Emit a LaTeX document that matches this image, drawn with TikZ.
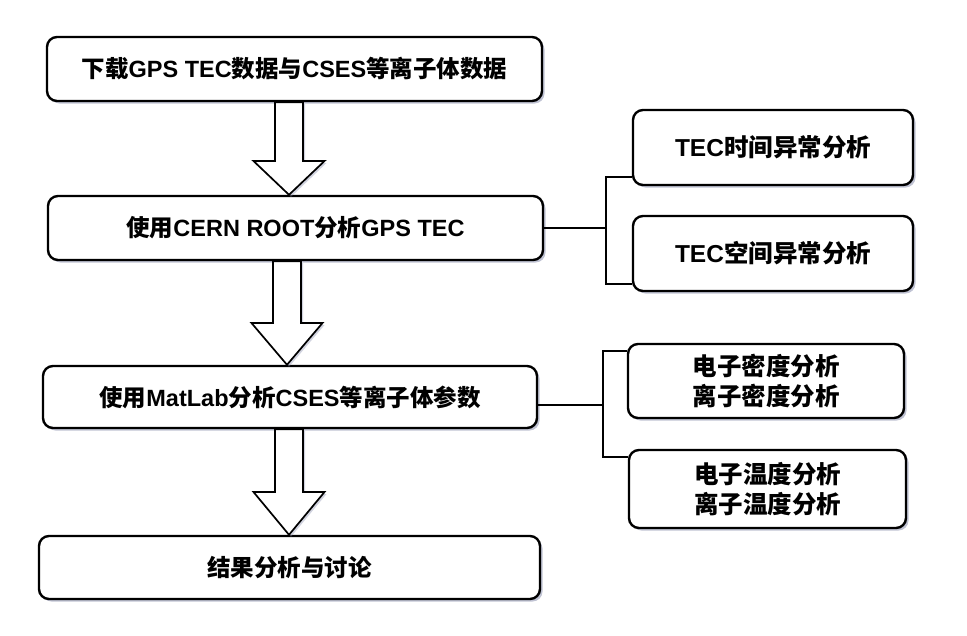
\documentclass[tikz,border=0pt]{standalone}
\usepackage{fontspec}
\setmainfont{Liberation Sans}
\newfontfamily\cjkf{Noto Sans CJK SC}
\usetikzlibrary{shadows,calc}
\newcommand\zh[1]{{\cjkf #1}}
\definecolor{shadowc}{RGB}{140,145,175}
\begin{document}
\begin{tikzpicture}[x=1pt,y=-1pt,
  box/.style={draw=black, line width=2.4pt, rounded corners=10pt, fill=white,
    drop shadow={shadow xshift=2.5pt, shadow yshift=-2.5pt, fill=shadowc, opacity=0.55},
    font=\bfseries\fontsize{23.5}{30}\selectfont, align=center, inner sep=0pt},
  rbox/.style={box, font=\bfseries\fontsize{24.5}{30}\selectfont},
  barrow/.style={draw=black, line width=1.7pt, fill=white, line join=miter,
    drop shadow={shadow xshift=2pt, shadow yshift=-2pt, fill=shadowc, opacity=0.4}},
  link/.style={draw=black, line width=2.5pt}]
\useasboundingbox (0,0) rectangle (967,635);

% main column
\node[box, minimum width=495, minimum height=64] (b1) at (294.5,69)
  {\zh{下载}GPS TEC\zh{数据与}CSES\zh{等离子体数据}};
\node[box, minimum width=495, minimum height=64] (b2) at (295.5,228)
  {\zh{使用}CERN ROOT\zh{分析}GPS TEC};
\node[box, minimum width=494, minimum height=62] (b3) at (290,397)
  {\zh{使用}MatLab\zh{分析}CSES\zh{等离子体参数}};
\node[box, minimum width=501, minimum height=63] (b4) at (289.5,567.5)
  {\zh{结果分析与讨论}};

% right column
\node[rbox, minimum width=280, minimum height=75] (r1) at (773,147.5)
  {TEC\zh{时间异常分析}};
\node[rbox, minimum width=280, minimum height=75] (r2) at (773,253.5)
  {TEC\zh{空间异常分析}};
\node[rbox, minimum width=276, minimum height=74] (r3) at (766,381)
  {\zh{电子密度分析}\\\zh{离子密度分析}};
\node[rbox, minimum width=277, minimum height=78] (r4) at (767.5,489)
  {\zh{电子温度分析}\\\zh{离子温度分析}};

% block arrows
\coordinate (h1) at (289,161);
\coordinate (h2) at (287,323);
\coordinate (h3) at (289,492);
\draw[barrow] ($(h1|-b1.south)+(-14,0)$) -- ($(h1)+(-14,0)$) -- ($(h1)+(-35.5,0)$)
  -- (h1|-b2.north) -- ($(h1)+(35.5,0)$) -- ($(h1)+(14,0)$) -- ($(h1|-b1.south)+(14,0)$) -- cycle;
\draw[barrow] ($(h2|-b2.south)+(-14,0)$) -- ($(h2)+(-14,0)$) -- ($(h2)+(-35.5,0)$)
  -- (h2|-b3.north) -- ($(h2)+(35.5,0)$) -- ($(h2)+(14,0)$) -- ($(h2|-b2.south)+(14,0)$) -- cycle;
\draw[barrow] ($(h3|-b3.south)+(-14,0)$) -- ($(h3)+(-14,0)$) -- ($(h3)+(-35.5,0)$)
  -- (h3|-b4.north) -- ($(h3)+(35.5,0)$) -- ($(h3)+(14,0)$) -- ($(h3|-b3.south)+(14,0)$) -- cycle;

% brackets
\coordinate (j1) at ($(b2.east)+(62,0)$);
\draw[link] (b2.east) -- (j1);
\draw[link] ([yshift=9pt]r1.south west) -| (j1) |- ([yshift=8pt]r2.south west);
\coordinate (j2) at ($([yshift=-8pt]b3.east)+(65,0)$);
\draw[link] ([yshift=-8pt]b3.east) -- (j2);
\draw[link] ([yshift=-8pt]r3.north west) -| (j2) |- ([yshift=-8pt]r4.north west);
\end{tikzpicture}
\end{document}
